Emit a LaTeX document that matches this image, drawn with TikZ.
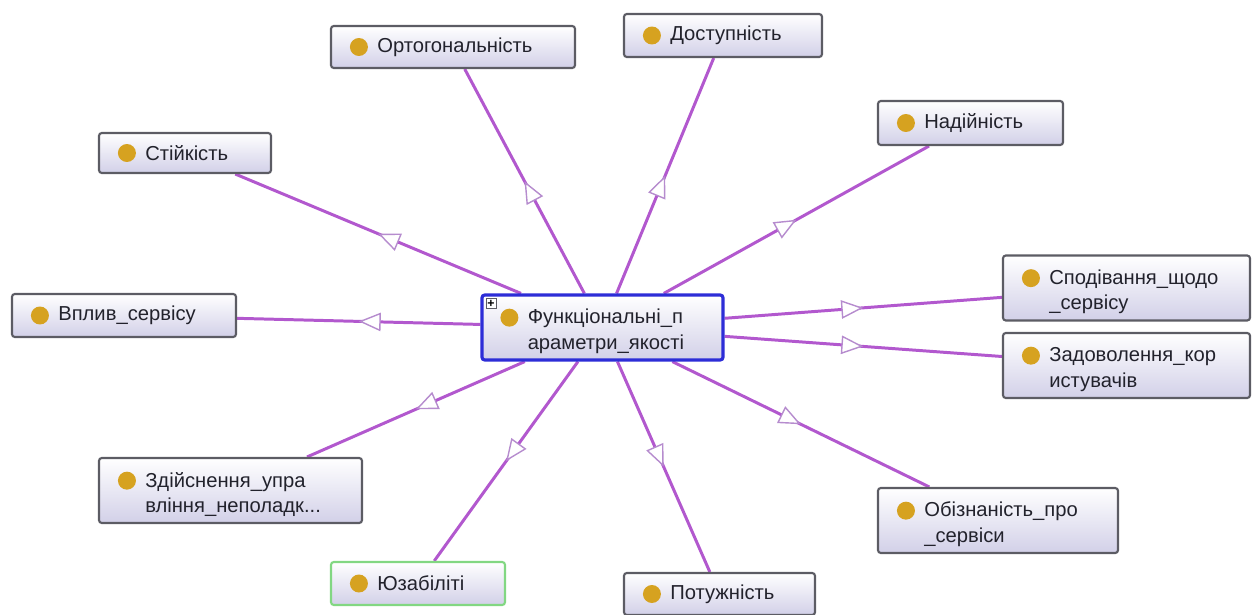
\documentclass[tikz,border=0pt]{standalone}
\usepackage{fontspec}
\setmainfont{Liberation Sans}
\usetikzlibrary{arrows.meta,decorations.markings,backgrounds}
\definecolor{edgec}{RGB}{178,88,206}
\definecolor{tipc}{RGB}{182,140,206}
\definecolor{boxborder}{RGB}{92,92,100}
\definecolor{boxbottom}{RGB}{210,208,232}
\definecolor{dotc}{RGB}{214,162,32}
\definecolor{rootborder}{RGB}{45,45,215}
\definecolor{selborder}{RGB}{130,215,130}
\definecolor{textc}{RGB}{34,34,44}

% one-line concept box: name, x, y, width, height (px), extra style, label
\newcommand\cnode[7]{%
  \node[box={#4}{#5},#6] (#1) at (#2,#3) {};
  \node[dot] (#1-d) at ([xshift=0.58cm]#1.west) {};
  \node[labeltext] (#1-t) at ([xshift=0.94cm]#1.west) {#7};
}
% two-line concept box: the bullet sits on the first line
\newcommand\cnodetwo[7]{%
  \node[box={#4}{#5},#6] (#1) at (#2,#3) {};
  \node[dot] (#1-d) at ([xshift=0.58cm,yshift=5.6pt]#1.west) {};
  \node[labeltext] (#1-t) at ([xshift=0.94cm,yshift=-2.2pt]#1.west) {#7};
}

\begin{document}
\begin{tikzpicture}[x=0.02cm,y=-0.02cm,
  box/.style 2 args={draw=boxborder, line width=1.2pt, rounded corners=1.6pt,
    top color=white, bottom color=boxbottom, inner sep=0pt,
    minimum width=#1*0.02cm, minimum height=#2*0.02cm},
  dot/.style={circle, fill=dotc, inner sep=0pt, minimum size=0.36cm},
  labeltext/.style={anchor=west, align=left, inner sep=0pt, text=textc,
    font=\fontsize{11.5}{14.6}\selectfont},
  link/.style={draw=edgec, line width=1.7pt, postaction={decorate},
    decoration={markings, mark=at position 0.5 with
      {\arrow{Triangle[length=12.5pt, width=10.5pt, fill=white, color=tipc, line width=0.8pt]}}}}
]
\useasboundingbox (0,0) rectangle (1252,615);

\cnodetwo{root}{602.5}{327.5}{241}{65}{draw=rootborder, line width=1.8pt}{Функціональні\_п\\араметри\_якості}
\node[draw=boxborder, fill=white, line width=0.5pt, minimum size=0.2cm, inner sep=0pt,
  font=\fontsize{7}{7}\selectfont\bfseries] (plus) at (491,303.5) {+};

\cnode{orth}{453}{47}{244}{42}{}{Ортогональність}
\cnode{dost}{723}{35.5}{198}{43}{}{Доступність}
\cnode{nad}{970.5}{123}{185}{44}{}{Надійність}
\cnode{stiy}{185}{153}{172}{40}{}{Стійкість}
\cnode{vplyv}{124}{315.5}{224}{43}{}{Вплив\_сервісу}
\cnodetwo{spod}{1126.5}{288}{247}{65}{}{Сподівання\_щодо\\\_сервісу}
\cnodetwo{zadov}{1126.5}{365.5}{247}{65}{}{Задоволення\_кор\\истувачів}
\cnodetwo{zdiys}{230.5}{490.5}{263}{65}{}{Здійснення\_упра\\вління\_неполадк...}
\cnodetwo{obizn}{998}{520.5}{240}{65}{}{Обізнаність\_про\\\_сервіси}
\cnode{yuzab}{418}{583.5}{174}{43}{draw=selborder}{Юзабіліті}
\cnode{potuzh}{719.5}{594}{191}{42}{}{Потужність}

\begin{pgfonlayer}{background}
  \foreach \target in {orth,dost,nad,stiy,vplyv,spod,zadov,zdiys,obizn,yuzab,potuzh}
    \path[link] (root) -- (\target);
\end{pgfonlayer}
\end{tikzpicture}
\end{document}
